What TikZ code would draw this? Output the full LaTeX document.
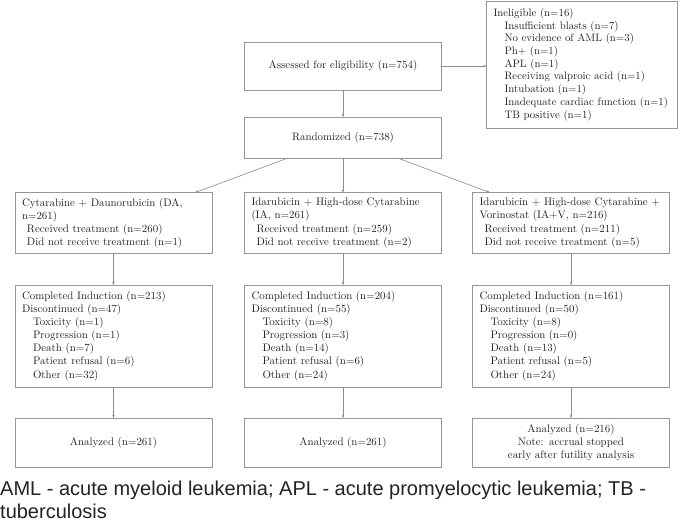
\documentclass[tikz,border=0pt]{standalone}
\usepackage{fontspec}
\newfontfamily\capfont{Liberation Sans}
\usetikzlibrary{arrows.meta}
\definecolor{linegray}{RGB}{140,140,140}
\definecolor{boxgray}{RGB}{150,150,150}
\definecolor{txt}{RGB}{35,35,35}
\begin{document}
\begin{tikzpicture}[x=1pt,y=-1pt,
  box/.style={draw=boxgray, line width=0.8pt, inner xsep=7pt, inner ysep=0pt, outer sep=0pt,
    text width=183pt, align=left, text=txt, font=\fontsize{10.9}{13.1}\selectfont},
  cbox/.style={box, align=center},
  conn/.style={draw=linegray, line width=0.6pt, -{Stealth[length=3.2pt,width=2.6pt]}},
  captext/.style={anchor=base west, inner sep=0pt, text=txt, font=\capfont\fontsize{20}{24}\selectfont},
]
\useasboundingbox (0,0) rectangle (685,523);
\newcommand{\ind}{\hspace*{11pt}}
\newcommand{\sind}{\hspace*{5pt}}

\node[cbox, minimum height=48pt] (assess) at (343,66) {Assessed for eligibility (n=754)};
\node[box, text width=177pt, minimum height=127pt, font=\fontsize{10.8}{12.7}\selectfont] (inel) at (582,64.5)
  {Ineligible (n=16)\\
   \ind Insufficient blasts (n=7)\\
   \ind No evidence of AML (n=3)\\
   \ind Ph+ (n=1)\\
   \ind APL (n=1)\\
   \ind Receiving valproic acid (n=1)\\
   \ind Intubation (n=1)\\
   \ind Inadequate cardiac function (n=1)\\
   \ind TB positive (n=1)};
\node[cbox, minimum height=41pt] (rand) at (343,137.5) {Randomized (n=738)};

\node[box, minimum height=61pt] (a1) at (113.5,223)
  {Cytarabine + Daunorubicin (DA,\\ n=261)\\
   \sind Received treatment (n=260)\\
   \sind Did not receive treatment (n=1)};
\node[box, minimum height=61pt] (b1) at (343,223)
  {Idarubicin + High-dose Cytarabine\\ (IA, n=261)\\
   \sind Received treatment (n=259)\\
   \sind Did not receive treatment (n=2)};
\node[box, minimum height=61pt] (c1) at (571,223)
  {Idarubicin + High-dose Cytarabine +\\ Vorinostat (IA+V, n=216)\\
   \sind Received treatment (n=211)\\
   \sind Did not receive treatment (n=5)};

\node[box, minimum height=102pt] (a2) at (113.5,336)
  {Completed Induction (n=213)\\
   Discontinued (n=47)\\
   \ind Toxicity (n=1)\\
   \ind Progression (n=1)\\
   \ind Death (n=7)\\
   \ind Patient refusal (n=6)\\
   \ind Other (n=32)};
\node[box, minimum height=102pt] (b2) at (343,336)
  {Completed Induction (n=204)\\
   Discontinued (n=55)\\
   \ind Toxicity (n=8)\\
   \ind Progression (n=3)\\
   \ind Death (n=14)\\
   \ind Patient refusal (n=6)\\
   \ind Other (n=24)};
\node[box, minimum height=102pt] (c2) at (571,336)
  {Completed Induction (n=161)\\
   Discontinued (n=50)\\
   \ind Toxicity (n=8)\\
   \ind Progression (n=0)\\
   \ind Death (n=13)\\
   \ind Patient refusal (n=5)\\
   \ind Other (n=24)};

\node[cbox, minimum height=49pt] (a3) at (113.5,442.5) {Analyzed (n=261)};
\node[cbox, minimum height=49pt] (b3) at (343,442.5) {Analyzed (n=261)};
\node[cbox, minimum height=49pt] (c3) at (571,442.5)
  {Analyzed (n=216)\\ Note: accrual stopped\\ early after futility analysis};

\draw[conn] (assess) -- (inel.west |- assess.east);
\draw[conn] (assess) -- (rand);
\draw[conn] (rand) -- (a1);
\draw[conn] (rand) -- (b1);
\draw[conn] (rand) -- (c1);
\draw[conn] (a1) -- (a2);
\draw[conn] (b1) -- (b2);
\draw[conn] (c1) -- (c2);
\draw[conn] (a2) -- (a3);
\draw[conn] (b2) -- (b3);
\draw[conn] (c2) -- (c3);

\node[captext] (cap1) at (0,495)
  {AML - acute myeloid leukemia; APL - acute promyelocytic leukemia; TB -};
\node[captext] (cap2) at (0,518)
  {tuberculosis};
\end{tikzpicture}
\end{document}
